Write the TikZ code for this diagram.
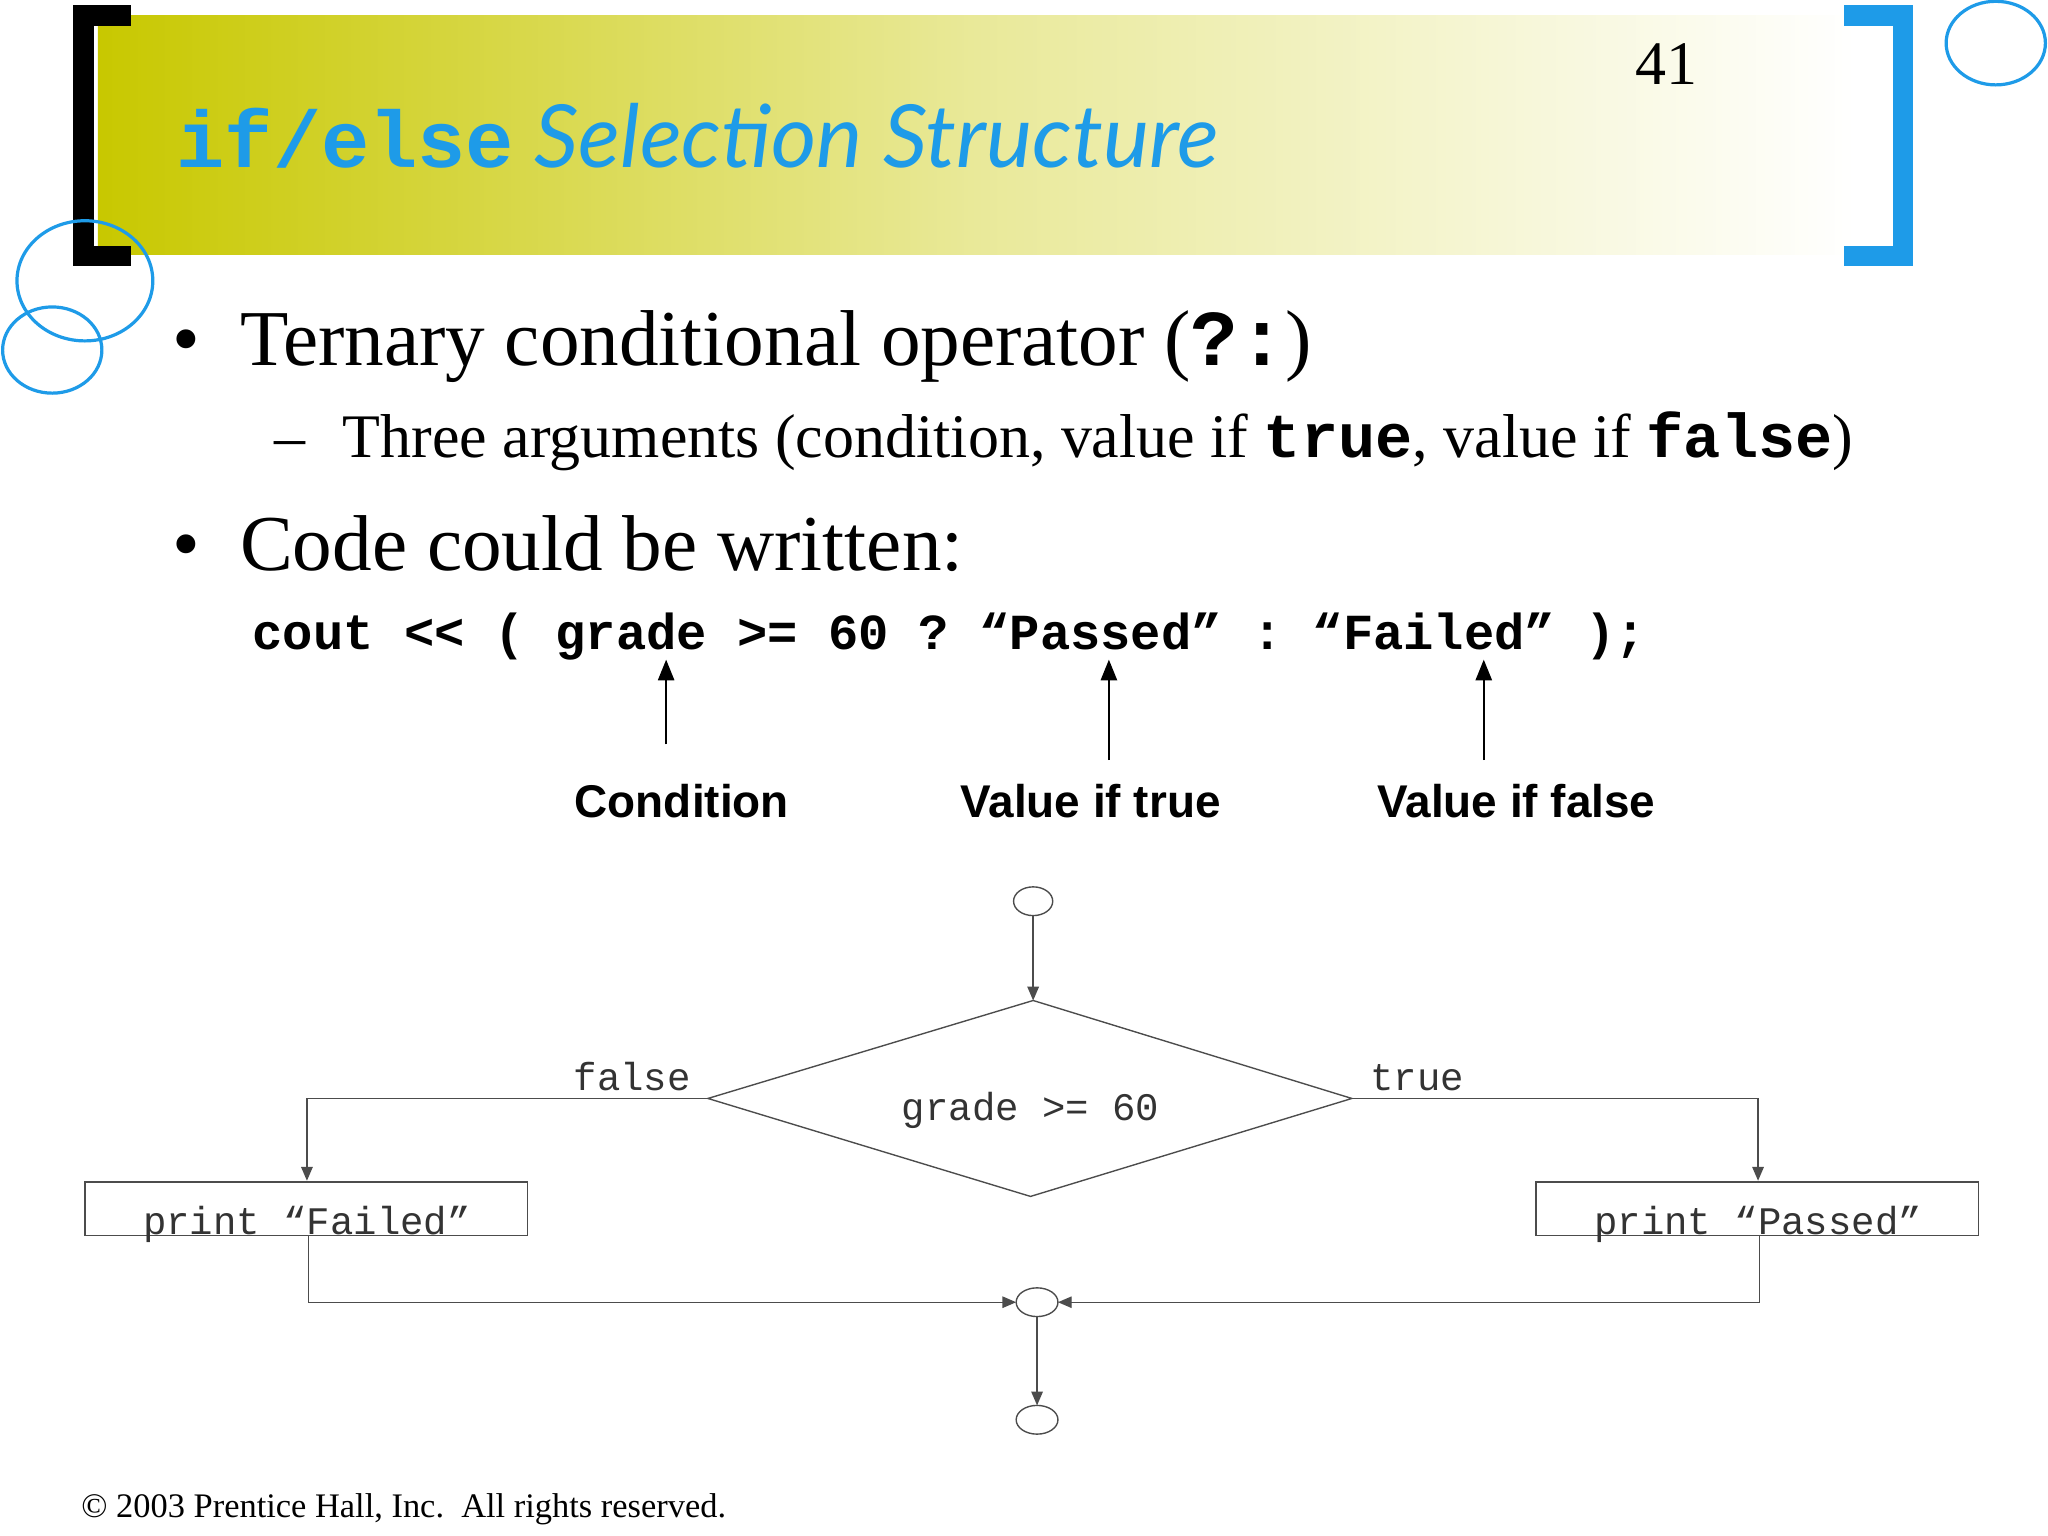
\documentclass[tikz,border=0pt]{standalone}
\usepackage{fontspec}
\setmainfont{Liberation Serif}
\setsansfont{Liberation Sans}
\setmonofont{Liberation Mono}
\newfontfamily\titlefont{Lato}
\usetikzlibrary{arrows.meta}
\definecolor{tblue}{HTML}{1E9BE8}
\definecolor{olive}{HTML}{C8C800}
\begin{document}
\begin{tikzpicture}[x=0.02cm,y=-0.02cm,
  fl/.style={draw=black!70,line width=0.6pt},
  arr/.style={fl,-{Triangle[length=6pt,width=5pt]}},
  ftext/.style={font=\ttfamily\fontsize{17}{17}\selectfont,text=black!80,inner sep=1pt},
  lbl/.style={font=\sffamily\bfseries\fontsize{20}{20}\selectfont},
  ring/.style={draw=tblue,line width=1.4pt}]
\useasboundingbox (0,0) rectangle (1568,1176);
\fill[white] (0,0) rectangle (1568,1176);
\shade[left color=olive,right color=white,middle color=olive!40] (75,12) rectangle (1420,195);
\draw[line width=9pt] (100,12) -- (64,12) -- (64,196) -- (100,196);
\draw[tblue,line width=9pt] (1412,12) -- (1457,12) -- (1457,196) -- (1412,196);
\draw[ring] (1528,33) ellipse (38 and 32);
\draw[ring] (65,215) ellipse (52 and 46);
\draw[ring] (40,268) ellipse (38 and 33);
\node[anchor=base west,inner sep=0] (title) at (135,128) {\textcolor{tblue}{\ttfamily\bfseries\fontsize{35}{35}\selectfont if/else}\textcolor{tblue}{\titlefont\itshape\fontsize{38}{38}\selectfont\ Selection Structure}};
\node[anchor=base,inner sep=0] (num) at (1276,65) {\fontsize{27}{27}\selectfont 41};
\node[anchor=base west,inner sep=0] (b1) at (132,280) {\fontsize{34.5}{34.5}\selectfont •\hspace{0.5em}Ternary conditional operator (\texttt{\bfseries ?:})};
\node[anchor=base west,inner sep=0] (b2) at (210,350) {\fontsize{27}{27}\selectfont –\hspace{0.6em}Three arguments (condition, value if \texttt{\bfseries true}, value if \texttt{\bfseries false})};
\node[anchor=base west,inner sep=0] (b3) at (132,437) {\fontsize{34.5}{34.5}\selectfont •\hspace{0.5em}Code could be written:};
\node[anchor=base west,inner sep=0] (code) at (193,497) {\ttfamily\bfseries\fontsize{22}{22}\selectfont cout << ( grade >= 60 ? “Passed” : “Failed” );};
\node[lbl] (c1) at (522,613) {Condition};
\node[lbl] (c2) at (835,613) {Value if true};
\node[lbl] (c3) at (1161,613) {Value if false};
\coordinate (a1) at (510,570); \coordinate (a1t) at (510,505);
\coordinate (a2) at (849,582); \coordinate (a2t) at (849,505);
\coordinate (a3) at (1136,582); \coordinate (a3t) at (1136,505);
\foreach \a in {1,2,3} \draw[line width=1pt,-{Triangle[length=9pt,width=7pt]}] (a\a) -- (a\a t);
% flowchart
\draw[fl] (791,690) ellipse (15 and 11);
\coordinate (s) at (791,701);
\coordinate (dt) at (791,766); \coordinate (dl) at (542,841);
\coordinate (dr) at (1035,841); \coordinate (db) at (789,916);
\draw[fl] (dt) -- (dr) -- (db) -- (dl) -- cycle;
\node[ftext] (cond) at (789,850) {grade >= 60};
\draw[arr] (s) -- (dt);
\draw[fl] (65,905) rectangle (404,946);
\draw[fl] (1176,905) rectangle (1515,946);
\node[ftext,anchor=base] (pf) at (235,945) {print “Failed”};
\node[ftext,anchor=base] (pp) at (1346,945) {print “Passed”};
\draw[arr] (dl) -- (235,841) -- (235,904);
\draw[arr] (dr) -- (1346,841) -- (1346,904);
\node[ftext,anchor=base] (fl) at (484,835) {false};
\node[ftext,anchor=base] (tr) at (1085,835) {true};
\draw[fl] (794,997) ellipse (16 and 11);
\draw[arr] (236,946) -- (236,997) -- (778,997);
\draw[arr] (1347,946) -- (1347,997) -- (810,997);
\draw[fl] (794,1087) ellipse (16 and 11);
\draw[arr] (794,1008) -- (794,1076);
\node[anchor=base west,inner sep=0] (copy) at (62,1162) {\fontsize{15}{15}\selectfont © 2003 Prentice Hall, Inc.\ \ All rights reserved.};
\end{tikzpicture}
\end{document}
